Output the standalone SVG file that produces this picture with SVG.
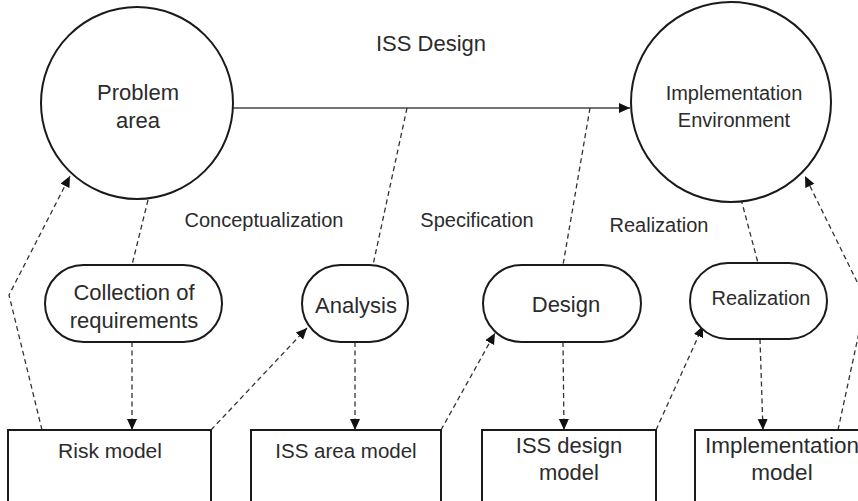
<svg xmlns="http://www.w3.org/2000/svg" width="858" height="501" viewBox="0 0 858 501">
  <style>
    text { font-family: "Liberation Sans", Arial, sans-serif; fill: #2b2b2b; text-anchor: middle; }
    .shape { fill: #ffffff; stroke: #1a1a1a; stroke-width: 2; }
    .dash { fill: none; stroke: #333333; stroke-width: 1.3; stroke-dasharray: 5 3.5; }
    .solid { fill: none; stroke: #444444; stroke-width: 1.6; }
  </style>
  <defs>
    <marker id="arrow" markerUnits="userSpaceOnUse" markerWidth="12" markerHeight="12" viewBox="0 0 12 12" refX="11" refY="6" orient="auto">
      <path d="M0,1 L11,6 L0,11 Z" fill="#111111"/>
    </marker>
  </defs>
  <rect width="858" height="501" fill="#ffffff"/>

  <!-- connectors -->
  <g id="connectors">
    <line class="solid" x1="233" y1="108" x2="630" y2="108" marker-end="url(#arrow)"/>
    <line class="dash" x1="148" y1="200" x2="132" y2="265"/>
    <line class="dash" x1="407" y1="108" x2="373" y2="265"/>
    <line class="dash" x1="590" y1="108" x2="563" y2="265"/>
    <line class="dash" x1="741" y1="199" x2="758" y2="263"/>
    <polyline class="dash" points="42,430 9,295 70,176" marker-end="url(#arrow)"/>
    <line class="dash" x1="132" y1="342" x2="132" y2="430" marker-end="url(#arrow)"/>
    <line class="dash" x1="211" y1="430" x2="307" y2="328" marker-end="url(#arrow)"/>
    <line class="dash" x1="355" y1="342" x2="355" y2="430" marker-end="url(#arrow)"/>
    <line class="dash" x1="441" y1="430" x2="495" y2="333" marker-end="url(#arrow)"/>
    <line class="dash" x1="563" y1="342" x2="564" y2="430" marker-end="url(#arrow)"/>
    <line class="dash" x1="656" y1="430" x2="703" y2="326" marker-end="url(#arrow)"/>
    <line class="dash" x1="760" y1="339" x2="763" y2="430" marker-end="url(#arrow)"/>
    <polyline class="dash" points="838,430 866,300 805,176" marker-end="url(#arrow)"/>
  </g>

  <!-- phase labels -->
  <g id="labels">
    <text x="431" y="51" font-size="22">ISS Design</text>
    <text x="264" y="227" font-size="20">Conceptualization</text>
    <text x="477" y="227" font-size="20">Specification</text>
    <text x="659" y="232" font-size="20">Realization</text>
  </g>

  <g id="problem-area">
    <circle class="shape" cx="137" cy="103" r="96"/>
    <text x="138" y="100" font-size="22">Problem</text>
    <text x="138" y="128" font-size="22">area</text>
  </g>

  <g id="implementation-environment">
    <circle class="shape" cx="731" cy="102" r="100"/>
    <text x="734" y="100" font-size="20">Implementation</text>
    <text x="734" y="127" font-size="20">Environment</text>
  </g>

  <g id="collection-of-requirements">
    <rect class="shape" x="45" y="265" width="177" height="77" rx="38.5"/>
    <text x="134" y="300" font-size="22">Collection of</text>
    <text x="134" y="328" font-size="22">requirements</text>
  </g>

  <g id="analysis">
    <rect class="shape" x="302" y="265" width="106" height="77" rx="38.5"/>
    <text x="356" y="313" font-size="22">Analysis</text>
  </g>

  <g id="design">
    <rect class="shape" x="483" y="265" width="158" height="77" rx="38.5"/>
    <text x="566" y="312" font-size="22">Design</text>
  </g>

  <g id="realization">
    <rect class="shape" x="690" y="263" width="137" height="76" rx="38"/>
    <text x="761" y="305" font-size="20">Realization</text>
  </g>

  <g id="risk-model">
    <rect class="shape" x="8" y="430" width="203" height="72"/>
    <text x="110" y="458" font-size="21">Risk model</text>
  </g>

  <g id="iss-area-model">
    <rect class="shape" x="251" y="430" width="190" height="72"/>
    <text x="346" y="458" font-size="20.5">ISS area model</text>
  </g>

  <g id="iss-design-model">
    <rect class="shape" x="482" y="430" width="174" height="72"/>
    <text x="569" y="453" font-size="22">ISS design</text>
    <text x="569" y="480" font-size="22">model</text>
  </g>

  <g id="implementation-model">
    <rect class="shape" x="695" y="430" width="180" height="72"/>
    <text x="782" y="453" font-size="22.5">Implementation</text>
    <text x="782" y="480" font-size="22.5">model</text>
  </g>
</svg>
